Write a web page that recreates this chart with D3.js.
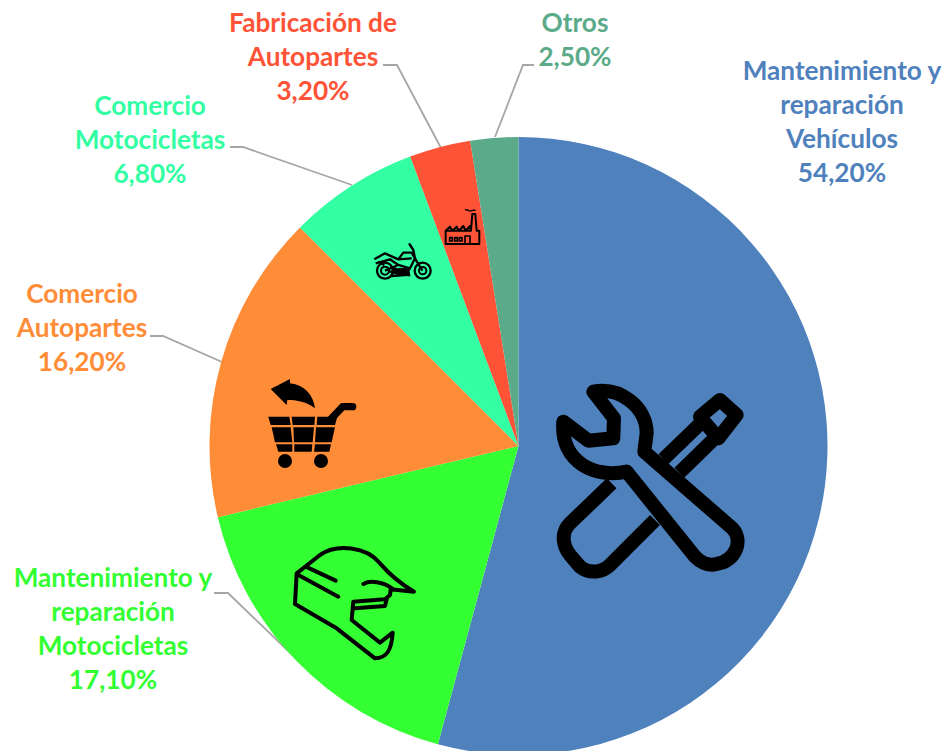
<!DOCTYPE html>
<html><head><meta charset="utf-8">
<script src="https://cdnjs.cloudflare.com/ajax/libs/d3/7.8.5/d3.min.js"></script>
<style>html,body{margin:0;padding:0;background:#fff}svg{display:block}
text{font-family:Lato,"Open Sans",sans-serif;font-weight:700;font-size:26.2px}</style>
</head><body><svg id="c" width="948" height="751"></svg>
<script>
const categories = [["Mantenimiento y","reparación","Vehículos"],["Mantenimiento y","reparación","Motocicletas"],["Comercio","Autopartes"],["Comercio","Motocicletas"],["Fabricación de","Autopartes"],["Otros"]];
const values = [54.2,17.1,16.2,6.8,3.2,2.5];
const valueLabels = ["54,20%","17,10%","16,20%","6,80%","3,20%","2,50%"];
const colors = ["#4f81bd","#33ff33","#ff8c36","#33ffa3","#ff5337","#5bab8a"];

const cx=518.5, cy=446, R=309;
// layout of labels: centre x, first baseline y, leader polyline
const labelLayout = [
 {x:842,y:80,leader:null},
 {x:113,y:587,leader:[[214,593],[228,593],[310,672]]},
 {x:82,y:303,leader:[[150,336],[163,336],[222,362]]},
 {x:150,y:115,leader:[[230,147],[243,147],[352,185]]},
 {x:313,y:32,leader:[[383,65],[397,65],[441,148]]},
 {x:575,y:32,leader:[[534,65],[523,65],[495,137]]}
];
const svg=d3.select("#c");
const line=d3.line();
svg.append("g").selectAll("path").data(labelLayout.filter(d=>d.leader)).join("path")
  .attr("d",d=>line(d.leader)).attr("fill","none").attr("stroke","#a6a6a6").attr("stroke-width",1.8);

const pie=d3.pie().value(d=>d).sort(null);
const arc=d3.arc().innerRadius(0).outerRadius(R);
svg.append("g").attr("transform",`translate(${cx},${cy})`).selectAll("path").data(pie(values)).join("path")
  .attr("d",arc).attr("fill",(d,i)=>colors[i]);

const lab=svg.append("g").selectAll("text").data(categories).join("text")
  .attr("text-anchor","middle").attr("fill",(d,i)=>colors[i])
  .attr("transform",(d,i)=>`translate(${labelLayout[i].x},${labelLayout[i].y})`);
lab.selectAll("tspan").data((d,i)=>d.concat(valueLabels[i])).join("tspan")
  .attr("x",0).attr("y",(d,i)=>i*34).text(d=>d);

// pictograms
const wrench=svg.append("g").attr("transform","translate(530,370) scale(0.3333)")
  .attr("fill","none").attr("stroke","#000").attr("stroke-width",42).attr("stroke-linejoin","round").attr("stroke-linecap","round");
wrench.append("path").attr("d","M190,65 C270,50 350,110 350,190 L343,245 L607,475 C640,510 620,570 560,582 C530,590 510,575 495,560 L290,305 C200,325 90,280 100,155 L175,212 L250,205 L252,145 Z");
wrench.append("path").attr("d","M245,340 L120,460 C90,490 100,530 120,555 L150,590 C180,615 220,605 240,585 L375,450").attr("stroke-linecap","butt");
wrench.append("path").attr("d","M400,268 L512,160 M448,308 L562,197").attr("stroke-linecap","butt");
wrench.append("path").attr("d","M510,140 L570,90 L620,135 L565,205 Z").attr("stroke-width",42);

const helmet=svg.append("g").attr("transform","translate(270,530) scale(0.3333)")
  .attr("fill","none").attr("stroke","#000").attr("stroke-width",12).attr("stroke-linejoin","round").attr("stroke-linecap","round");
helmet.append("path").attr("d","M80,130 L75,222 L200,295 L315,385 C350,385 365,360 368,308 L330,338 L245,270 L250,215 L345,208 L360,195 L362,178 L432,185 C390,160 360,135 330,100 C290,50 200,40 150,75 Z");
helmet.append("path").attr("d","M112,112 L197,152 M85,135 L205,200 M280,162 C300,150 340,155 370,178 M255,235 L345,228 L350,208");

const cart=svg.append("g").attr("transform","translate(250,365) scale(0.3333)").attr("fill","#000");
cart.append("path").attr("d","M62,72 L120,42 L120,55 C165,60 190,90 195,130 C170,110 140,105 112,105 L110,120 Z");
[[55,155,118,155,122,180,62,180],[125,155,195,155,193,180,128,180],[202,155,262,155,255,180,200,180],
 [65,187,122,187,127,232,75,232],[130,187,192,187,188,232,132,232],[198,187,255,187,245,232,195,232],
 [78,238,127,238,127,260,85,260],[133,238,187,238,185,260,133,260],[195,238,243,238,238,260,192,260]]
 .forEach(p=>cart.append("polygon").attr("points",p.join(" ")));
cart.append("path").attr("d","M240,165 L278,125 L308,125").attr("fill","none").attr("stroke","#000").attr("stroke-width",22).attr("stroke-linecap","round");
cart.append("circle").attr("cx",105).attr("cy",288).attr("r",21);
cart.append("circle").attr("cx",213).attr("cy",288).attr("r",21);

const small=svg.append("g").attr("transform","translate(365,200) scale(0.3333)")
  .attr("fill","none").attr("stroke","#000").attr("stroke-width",6).attr("stroke-linejoin","round");
small.append("path").attr("d","M242,132 L343,132 L343,92 L335,92 L331,42 L322,42 L318,92 L242,92 Z M242,92 L255,80 L262,92 L275,80 L282,92 L295,78 L302,92 L315,78 L318,92");
small.append("path").attr("d","M300,132 L300,108 L315,108 L315,132 M254,113 h8 v10 h-8 Z M269,113 h8 v10 h-8 Z M283,113 h8 v10 h-8 Z").attr("stroke-width",5);
small.append("path").attr("d","M300,30 C308,26 312,36 320,32 C325,29 328,32 332,30").attr("stroke-width",4);
small.append("circle").attr("cx",60).attr("cy",212).attr("r",24).attr("stroke-width",7);
small.append("circle").attr("cx",60).attr("cy",212).attr("r",12);
small.append("circle").attr("cx",173).attr("cy",212).attr("r",24).attr("stroke-width",7);
small.append("circle").attr("cx",173).attr("cy",212).attr("r",11);
small.append("path").attr("d","M28,178 L60,160 L100,178 L115,158 L140,158 L150,175 L135,205 L120,225 L80,228 M60,212 L100,195 L135,205 M150,175 L172,212 M132,130 L145,150 L150,175 M32,190 L75,178 L100,195 M40,185 L58,195 M75,200 L110,215 M100,178 L140,175").attr("stroke-width",7);
small.append("path").attr("d","M70,215 L105,225 L135,228 L130,205 L105,205 Z").attr("fill","#000").attr("stroke-width",3);
</script></body></html>
